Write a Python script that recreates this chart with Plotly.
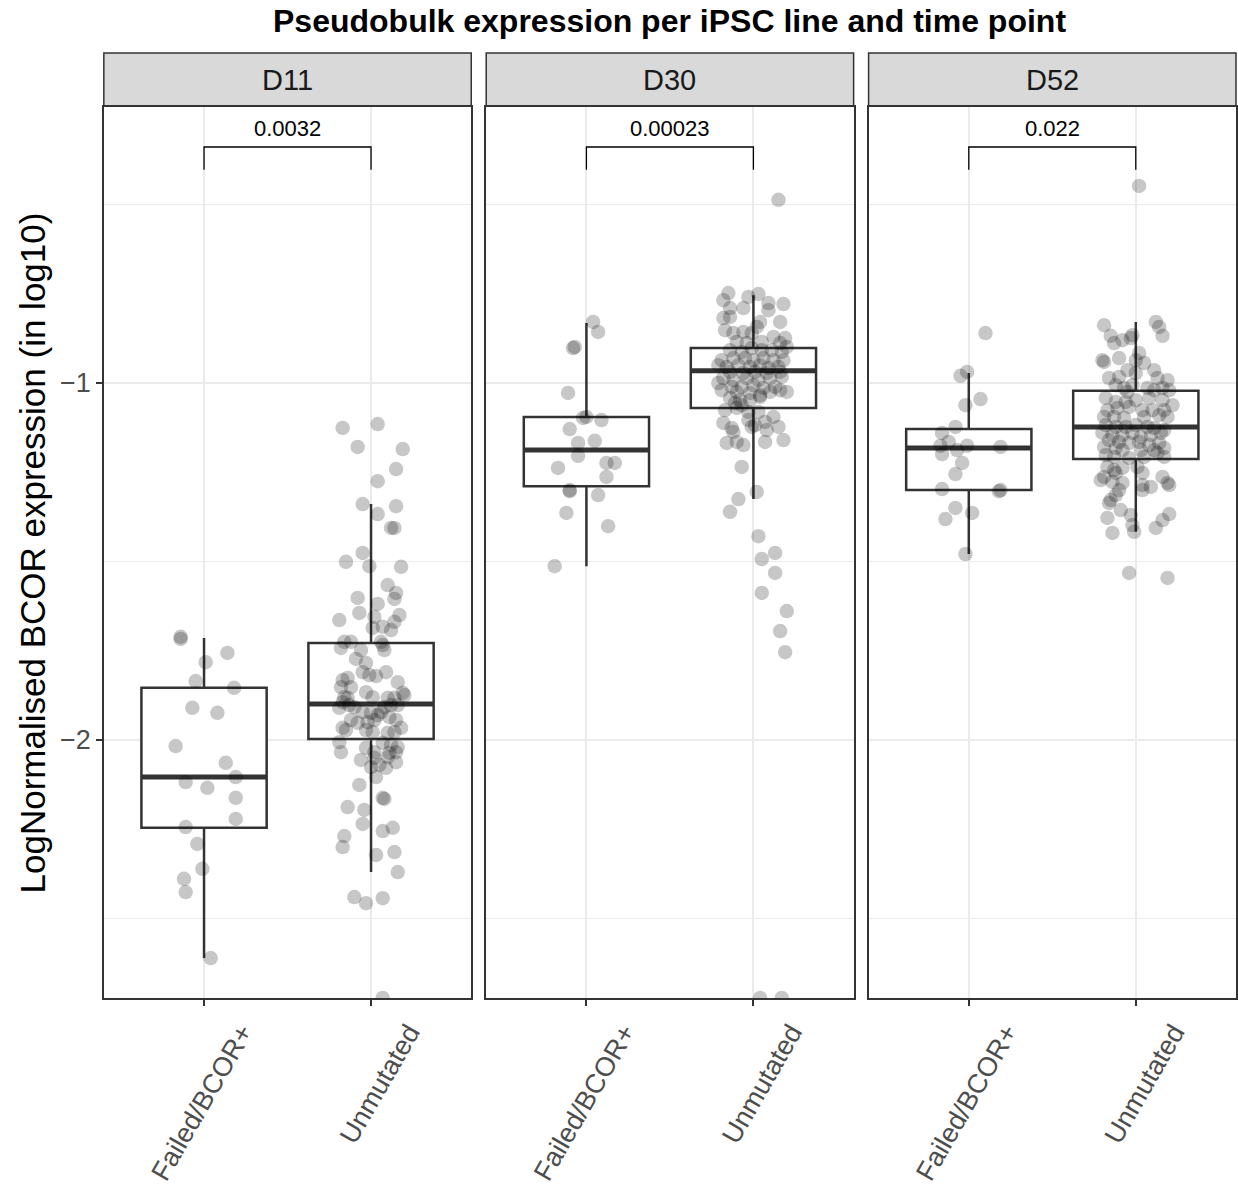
import plotly.graph_objects as go

# ---------------- data ----------------
timepoints = ["D11", "D30", "D52"]
groups = ["Failed/BCOR+", "Unmutated"]
pvalues = ["0.0032", "0.00023", "0.022"]
NEG_INF = float("-inf")

# jittered points: log10 expression values and horizontal jitter offsets (category units)
d11_failed_vals = [-1.711, -1.717, -1.756, -1.782, -1.835, -1.854, -1.910, -1.924, -2.017, -2.064,
                   -2.104, -2.118, -2.134, -2.162, -2.221, -2.244, -2.291, -2.361, -2.389, -2.426, -2.611]
d11_failed_jit = [-0.14, -0.14, 0.14, 0.01, -0.05, 0.18, -0.07, 0.08, -0.17, 0.13,
                  0.19, -0.11, 0.02, 0.19, 0.19, -0.11, -0.04, -0.01, -0.12, -0.11, 0.04]

d11_unmut_vals = [-1.126, -1.115, -1.179, -1.185, -1.241, -1.275, -1.339, -1.345, -1.367, -1.406, -1.406, -1.476, -1.501, -1.513, -1.515,
                  -1.566, -1.588, -1.605, -1.602, -1.619, -1.644, -1.650, -1.664, -1.655, -1.669, -1.683, -1.686, -1.692, -1.725, -1.725,
                  -1.725, -1.734, -1.742, -1.748, -1.748, -1.773, -1.784, -1.810, -1.818, -1.821, -1.810, -1.832, -1.826, -1.838, -1.868,
                  -1.852, -1.852, -1.866, -1.880, -1.880, -1.882, -1.882, -1.882, -1.874, -1.894, -1.902, -1.908, -1.908, -1.902, -1.902,
                  -1.910, -1.922, -1.924, -1.930, -1.944, -1.950, -1.922, -1.936, -1.944, -1.966, -1.944, -1.952, -1.966, -1.972, -1.972,
                  -1.978, -1.980, -1.978, -2.006, -2.034, -2.008, -2.014, -2.020, -2.022, -2.034, -2.034, -2.036, -2.056, -2.050, -2.070,
                  -2.076, -2.078, -2.062, -2.048, -2.104, -2.126, -2.162, -2.165, -2.188, -2.196, -2.235, -2.255, -2.246, -2.269, -2.300,
                  -2.322, -2.314, -2.370, -2.440, -2.457, -2.443, NEG_INF]
d11_unmut_jit = [-0.17, 0.04, -0.08, 0.19, 0.15, 0.04, -0.05, 0.15, 0.04, 0.12, 0.14, -0.05, -0.15, -0.01, 0.18,
                 0.10, 0.15, 0.14, -0.08, 0.04, -0.07, 0.17, -0.19, 0.02, 0.14, 0.07, 0.01, 0.12, -0.16, -0.12,
                 0.06, 0.07, -0.18, -0.06, 0.08, -0.09, -0.03, -0.05, -0.01, 0.03, 0.09, -0.17, -0.14, 0.16, 0.19,
                 -0.18, -0.12, -0.03, 0.01, -0.16, -0.14, 0.10, 0.14, 0.20, -0.17, -0.13, -0.10, 0.08, 0.12, 0.16,
                 -0.19, -0.05, 0.00, 0.04, 0.02, -0.02, 0.06, 0.11, 0.15, 0.18, -0.12, -0.08, -0.17, -0.15, -0.03,
                 0.01, 0.10, 0.14, -0.19, -0.18, 0.07, 0.12, 0.16, -0.03, 0.02, 0.15, 0.11, -0.06, 0.02, 0.05,
                 0.00, 0.09, 0.15, 0.10, 0.03, -0.07, 0.07, 0.08, -0.14, -0.04, -0.05, 0.07, 0.13, -0.16, -0.17,
                 0.03, 0.14, 0.16, -0.10, -0.03, 0.07, 0.07]

d30_failed_vals = [-0.829, -0.857, -0.902, -0.899, -1.028, -1.095, -1.098, -1.104, -1.129, -1.168, -1.162,
                   -1.204, -1.238, -1.224, -1.224, -1.263, -1.303, -1.300, -1.314, -1.364, -1.401, -1.513]
d30_failed_jit = [0.04, 0.07, -0.08, -0.07, -0.11, 0.00, -0.02, 0.09, -0.10, -0.05, 0.05,
                  -0.05, -0.17, 0.12, 0.17, 0.12, -0.10, -0.10, 0.07, -0.12, 0.13, -0.19]

d30_unmut_vals = [-0.487, -0.748, -0.768, -0.759, -0.751, -0.776, -0.779, -0.790, -0.790, -0.796,
                  -0.818, -0.815, -0.829, -0.829, -0.843, -0.852, -0.860, -0.857, -0.860, -0.871,
                  -0.874, -0.885, -0.888, -0.885, -0.888, -0.908, -0.913, -0.902, -0.908, -0.908,
                  -0.913, -0.899, -0.936, -0.930, -0.930, -0.936, -0.930, -0.936, -0.936, -0.950,
                  -0.955, -0.950, -0.955, -0.950, -0.958, -0.955, -0.969, -0.972, -0.969, -0.972,
                  -0.969, -0.986, -0.992, -0.986, -0.992, -0.986, -0.983, -1.000, -1.011, -1.011,
                  -1.006, -1.014, -1.011, -1.025, -1.020, -1.025, -1.028, -1.034, -1.025, -1.020,
                  -1.042, -1.048, -1.048, -1.039, -1.056, -1.062, -1.076, -1.070, -1.081, -1.081,
                  -1.112, -1.126, -1.104, -1.118, -1.109, -1.095, -1.123, -1.137, -1.123, -1.132,
                  -1.168, -1.165, -1.174, -1.165, -1.160, -1.235, -1.305, -1.325, -1.361, -1.429,
                  -1.476, -1.493, -1.532, -1.588, -1.639, -1.695, -1.754, NEG_INF, NEG_INF]
d30_unmut_jit = [0.15, -0.15, -0.18, -0.03, 0.03, 0.09, 0.18, -0.14, -0.06, 0.09,
                 -0.18, -0.14, 0.04, 0.16, 0.02, -0.17, -0.12, -0.06, -0.01, 0.12,
                 0.19, -0.10, -0.04, 0.05, 0.16, -0.14, -0.07, -0.01, 0.05, 0.11,
                 0.17, 0.20, -0.19, -0.12, -0.05, 0.00, 0.06, 0.12, 0.18, -0.21,
                 -0.16, -0.09, -0.02, 0.04, 0.09, 0.15, -0.14, -0.06, 0.01, 0.08,
                 0.16, -0.18, -0.12, -0.04, 0.03, 0.10, 0.17, -0.21, -0.13, -0.07,
                 0.00, 0.06, 0.13, 0.20, -0.19, -0.10, -0.02, 0.04, 0.10, 0.16,
                 -0.14, -0.08, -0.02, 0.04, -0.11, -0.07, -0.17, -0.10, -0.03, 0.03,
                 -0.18, -0.13, -0.03, 0.01, 0.07, 0.12, 0.15, -0.12, -0.01, 0.08,
                 -0.16, -0.10, -0.06, 0.07, 0.18, -0.07, 0.02, -0.09, -0.14, 0.03,
                 0.13, 0.05, 0.13, 0.05, 0.20, 0.16, 0.19, 0.04, 0.17]

d52_failed_vals = [-0.860, -0.969, -0.980, -1.045, -1.062, -1.123, -1.140, -1.165, -1.176, -1.176, -1.179,
                   -1.199, -1.188, -1.224, -1.255, -1.297, -1.300, -1.303, -1.350, -1.364, -1.381, -1.479]
d52_failed_jit = [0.10, -0.01, -0.05, 0.07, -0.02, -0.08, -0.16, -0.12, -0.17, -0.01, 0.19,
                  -0.16, -0.07, -0.04, -0.08, -0.16, 0.19, 0.18, -0.08, 0.02, -0.14, -0.02]

d52_unmut_vals = [-0.448, -0.838, -0.829, -0.843, -0.868, -0.868, -0.888, -0.880, -0.874, -0.866,
                  -0.936, -0.941, -0.930, -0.916, -0.944, -0.936, -0.964, -0.972, -0.964, -0.986,
                  -0.983, -0.986, -0.992, -1.006, -1.014, -1.025, -1.014, -1.020, -1.014, -1.020,
                  -1.006, -1.042, -1.053, -1.053, -1.048, -1.042, -1.048, -1.062, -1.076, -1.070,
                  -1.067, -1.076, -1.076, -1.076, -1.095, -1.095, -1.098, -1.095, -1.090, -1.095,
                  -1.118, -1.123, -1.123, -1.118, -1.123, -1.126, -1.132, -1.140, -1.146, -1.146,
                  -1.140, -1.151, -1.146, -1.140, -1.160, -1.165, -1.168, -1.165, -1.174, -1.168,
                  -1.182, -1.179, -1.182, -1.188, -1.188, -1.188, -1.202, -1.207, -1.210, -1.207,
                  -1.196, -1.207, -1.235, -1.244, -1.238, -1.235, -1.252, -1.263, -1.252, -1.272,
                  -1.280, -1.277, -1.286, -1.291, -1.263, -1.280, -1.300, -1.314, -1.300, -1.286,
                  -1.328, -1.336, -1.356, -1.378, -1.370, -1.384, -1.367, -1.420, -1.417, -1.406,
                  -1.398, -1.532, -1.546]
d52_unmut_jit = [0.02, -0.19, 0.12, 0.14, 0.16, -0.15, -0.13, -0.08, -0.03, -0.02,
                 -0.20, -0.19, -0.10, 0.02, 0.05, 0.00, -0.05, 0.00, 0.11, -0.16,
                 -0.10, 0.13, 0.19, -0.12, -0.07, -0.05, 0.07, 0.11, 0.16, 0.20,
                 -0.02, -0.18, -0.12, -0.06, 0.00, 0.08, 0.16, 0.22, -0.17, -0.11,
                 -0.04, 0.04, 0.10, 0.17, -0.19, -0.13, -0.07, 0.05, 0.14, 0.19,
                 -0.18, -0.12, -0.06, 0.00, 0.07, 0.11, 0.17, -0.20, -0.14, -0.08,
                 -0.02, 0.03, 0.09, 0.15, -0.16, -0.10, -0.04, 0.02, 0.08, 0.14,
                 0.17, -0.19, -0.12, -0.08, 0.03, 0.11, -0.18, -0.13, -0.04, 0.05,
                 0.13, 0.17, -0.17, -0.13, -0.08, 0.01, 0.04, -0.19, -0.12, -0.21,
                 -0.08, -0.14, 0.04, 0.09, 0.16, 0.19, -0.10, -0.12, 0.04, 0.20,
                 -0.15, -0.16, -0.09, -0.17, -0.03, 0.16, 0.20, -0.14, -0.01, 0.12,
                 -0.02, -0.04, 0.19]

# box statistics per panel: [Failed/BCOR+, Unmutated]
box_lower = {"D11": [-2.611, -2.370], "D30": [-1.513, -1.325], "D52": [-1.479, -1.417]}
box_q1 = {"D11": [-2.246, -1.997], "D30": [-1.289, -1.070], "D52": [-1.300, -1.213]}
box_median = {"D11": [-2.104, -1.899], "D30": [-1.188, -0.966], "D52": [-1.182, -1.123]}
box_q3 = {"D11": [-1.854, -1.728], "D30": [-1.095, -0.902], "D52": [-1.129, -1.022]}
box_upper = {"D11": [-1.714, -1.339], "D30": [-0.832, -0.754], "D52": [-0.972, -0.829]}

points = {
    "D11": [(d11_failed_vals, d11_failed_jit), (d11_unmut_vals, d11_unmut_jit)],
    "D30": [(d30_failed_vals, d30_failed_jit), (d30_unmut_vals, d30_unmut_jit)],
    "D52": [(d52_failed_vals, d52_failed_jit), (d52_unmut_vals, d52_unmut_jit)],
}

# ---------------- layout constants ----------------
W, H = 1238, 1187
FONT = "Liberation Sans, Arial, Helvetica, sans-serif"
panel_px = [(104, 472), (487, 855), (870, 1238)]
panel_top, panel_bottom = 107, 998
strip_top = 53
Y_RANGE = [-2.7227, -0.2269]
X_RANGE = [0.4, 2.6]
BRACKET_Y, BRACKET_TIP, PLABEL_Y = -0.339, -0.403, -0.287
BOX_W = 0.75

def px_x(p):
    return p / W

def px_y(p):
    return 1 - p / H

fig = go.Figure()
shapes, annotations = [], []

for i, tp in enumerate(timepoints):
    xa = "x" if i == 0 else f"x{i+1}"
    ya = "y" if i == 0 else f"y{i+1}"
    # boxes
    for g in range(2):
        pos = g + 1
        fig.add_trace(go.Box(
            x=[pos], q1=[box_q1[tp][g]], median=[box_median[tp][g]], q3=[box_q3[tp][g]],
            lowerfence=[box_lower[tp][g]], upperfence=[box_upper[tp][g]],
            width=BOX_W, whiskerwidth=0, boxpoints=False,
            fillcolor="white", line=dict(color="#333333", width=2.5),
            xaxis=xa, yaxis=ya, showlegend=False, hoverinfo="skip"))
        fig.add_trace(go.Scatter(
            x=[pos - BOX_W / 2, pos + BOX_W / 2], y=[box_median[tp][g]] * 2,
            mode="lines", line=dict(color="#333333", width=5),
            xaxis=xa, yaxis=ya, showlegend=False, hoverinfo="skip"))
    # jittered points
    for g in range(2):
        vals, jit = points[tp][g]
        assert len(vals) == len(jit)
        xs = [g + 1 + j for j in jit]
        ys = [Y_RANGE[0] if v == NEG_INF else v for v in vals]
        fig.add_trace(go.Scatter(
            x=xs, y=ys, mode="markers",
            marker=dict(size=14.5, color="rgba(0,0,0,0.22)", line=dict(width=0)),
            xaxis=xa, yaxis=ya, showlegend=False, hoverinfo="skip", cliponaxis=True))
    # p-value bracket
    fig.add_trace(go.Scatter(
        x=[1, 1, 2, 2], y=[BRACKET_TIP, BRACKET_Y, BRACKET_Y, BRACKET_TIP],
        mode="lines", line=dict(color="black", width=1.3),
        xaxis=xa, yaxis=ya, showlegend=False, hoverinfo="skip"))
    annotations.append(dict(
        x=1.5, y=PLABEL_Y, xref=xa, yref=ya, text=pvalues[i], showarrow=False,
        font=dict(family=FONT, size=22, color="black"), xanchor="center", yanchor="middle"))
    # strip
    x0, x1 = panel_px[i]
    shapes.append(dict(type="rect", xref="paper", yref="paper",
                       x0=px_x(x0), x1=px_x(x1), y0=px_y(panel_top - 1), y1=px_y(strip_top),
                       fillcolor="#D9D9D9", line=dict(color="#333333", width=1.5), layer="below"))
    annotations.append(dict(
        x=px_x((x0 + x1) / 2), y=px_y((strip_top + panel_top) / 2), xref="paper", yref="paper",
        text=tp, showarrow=False, font=dict(family=FONT, size=29, color="#1A1A1A"),
        xanchor="center", yanchor="middle"))

    xaxis = dict(domain=[px_x(x0), px_x(x1)], range=X_RANGE, anchor=ya,
                 tickmode="array", tickvals=[1, 2], ticktext=groups, tickangle=-60,
                 tickfont=dict(family=FONT, size=27, color="#4D4D4D"),
                 ticklabelshift=38,
                 ticks="outside", ticklen=6, tickwidth=1.5, tickcolor="#333333",
                 showgrid=True, gridcolor="#EBEBEB", gridwidth=2,
                 showline=True, mirror=True, linecolor="#333333", linewidth=1.5,
                 zeroline=False, fixedrange=True)
    yaxis = dict(domain=[px_y(panel_bottom), px_y(panel_top)], range=Y_RANGE, anchor=xa,
                 tickmode="array", tickvals=[-2, -1], ticktext=["\u22122", "\u22121"],
                 tickfont=dict(family=FONT, size=27, color="#4D4D4D"),
                 ticks="outside" if i == 0 else "", ticklen=6, tickwidth=1.5, tickcolor="#333333",
                 showticklabels=(i == 0),
                 showgrid=True, gridcolor="#EBEBEB", gridwidth=2,
                 minor=dict(tickmode="array", tickvals=[-2.5, -1.5, -0.5], showgrid=True,
                            gridcolor="#EBEBEB", gridwidth=1, ticks=""),
                 showline=True, mirror=True, linecolor="#333333", linewidth=1.5,
                 zeroline=False, fixedrange=True)
    fig.layout["xaxis" if i == 0 else f"xaxis{i+1}"] = xaxis
    fig.layout["yaxis" if i == 0 else f"yaxis{i+1}"] = yaxis

annotations.append(dict(
    x=px_x(671), y=px_y(21), xref="paper", yref="paper",
    text="<b>Pseudobulk expression per iPSC line and time point</b>", showarrow=False,
    font=dict(family=FONT, size=32, color="black"), xanchor="center", yanchor="middle"))
annotations.append(dict(
    x=px_x(33), y=px_y((panel_top + panel_bottom) / 2), xref="paper", yref="paper",
    text="LogNormalised BCOR expression (in log10)", showarrow=False, textangle=-90,
    font=dict(family=FONT, size=35, color="black"), xanchor="center", yanchor="middle"))

fig.update_layout(
    width=W, height=H, margin=dict(l=0, r=0, t=0, b=0),
    paper_bgcolor="white", plot_bgcolor="white",
    shapes=shapes, annotations=annotations, showlegend=False,
)

# remove the browser's default page margin so the figure sits at the page origin
fig.write_html("out.html", config={"displayModeBar": False},
               post_script="document.body.style.margin='0px';document.body.style.overflow='hidden';")
